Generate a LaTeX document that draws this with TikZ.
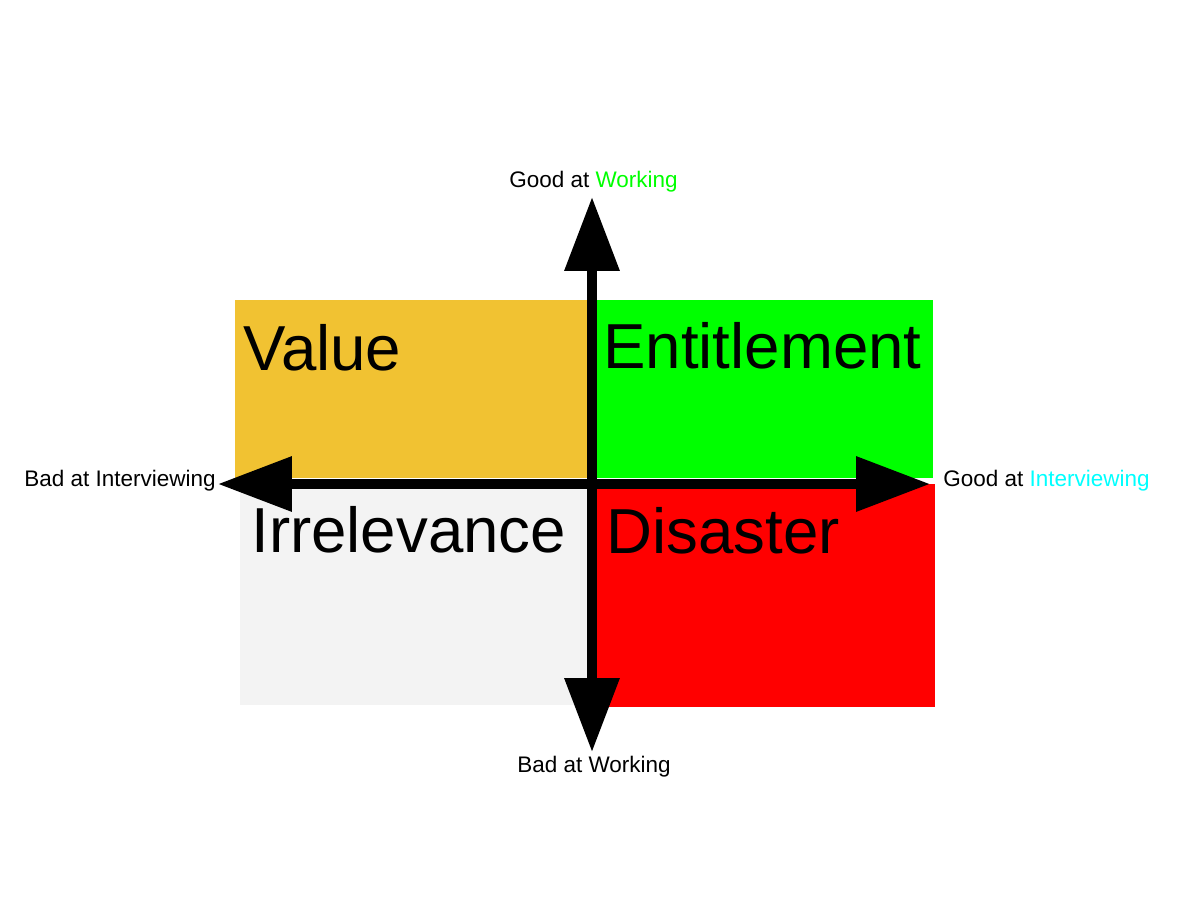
\documentclass[tikz,border=0pt]{standalone}
\usepackage{fontspec}
\setmainfont{Liberation Sans}
\usetikzlibrary{arrows.meta,positioning}
\definecolor{QuadGold}{HTML}{F1C232}
\definecolor{QuadGreen}{HTML}{00FF00}
\definecolor{QuadRed}{HTML}{FF0000}
\definecolor{QuadGrey}{HTML}{F3F3F3}
\definecolor{AxisCyan}{HTML}{00FFFF}
\tikzset{
  quadlabel/.style={anchor=base west, inner sep=0pt, font=\fontsize{36.2}{43}\selectfont},
  axislabel/.style={inner sep=0pt, font=\fontsize{12.8}{15}\selectfont},
  axisline/.style={line width=2mm, {Triangle[length=14.8mm,width=10.6mm]}-{Triangle[length=14.8mm,width=10.6mm]}}
}
\begin{document}
\begin{tikzpicture}[x=0.02cm,y=-0.02cm]
  \useasboundingbox (0,0) rectangle (1200,917);

  % quadrants
  \fill[QuadGold]  (235,300) rectangle (588,478);
  \fill[QuadGreen] (596,300) rectangle (933,478);
  \fill[QuadGrey]  (240,488) rectangle (590,705);
  \fill[QuadRed]   (597,484) rectangle (935,707);

  \node[quadlabel] (value) at (243,370) {Value};
  \node[quadlabel] (entitle) at (603,368) {Entitlement};
  \node[quadlabel] (irrel) at (251,552) {Irrelevance};
  \node[quadlabel] (disaster) at (606,553) {Disaster};

  % axes
  \coordinate (west) at (218,484);
  \coordinate (east) at (930,484);
  \coordinate (north) at (592,197);
  \coordinate (south) at (592,752);
  \draw[axisline] (west) -- (east);
  \draw[axisline] (south) -- (north);

  \node[axislabel, anchor=base east] (badint) at (216,486) {Bad at Interviewing};
  \node[axislabel, anchor=base west] (goodint) at (943,486) {Good at \textcolor{AxisCyan}{Interviewing}};
  \node[axislabel, anchor=base west] (goodwork) at (509,187) {Good at \textcolor{QuadGreen}{Working}};
  \node[axislabel, anchor=base west] (badwork) at (517,772) {Bad at Working};
\end{tikzpicture}
\end{document}
